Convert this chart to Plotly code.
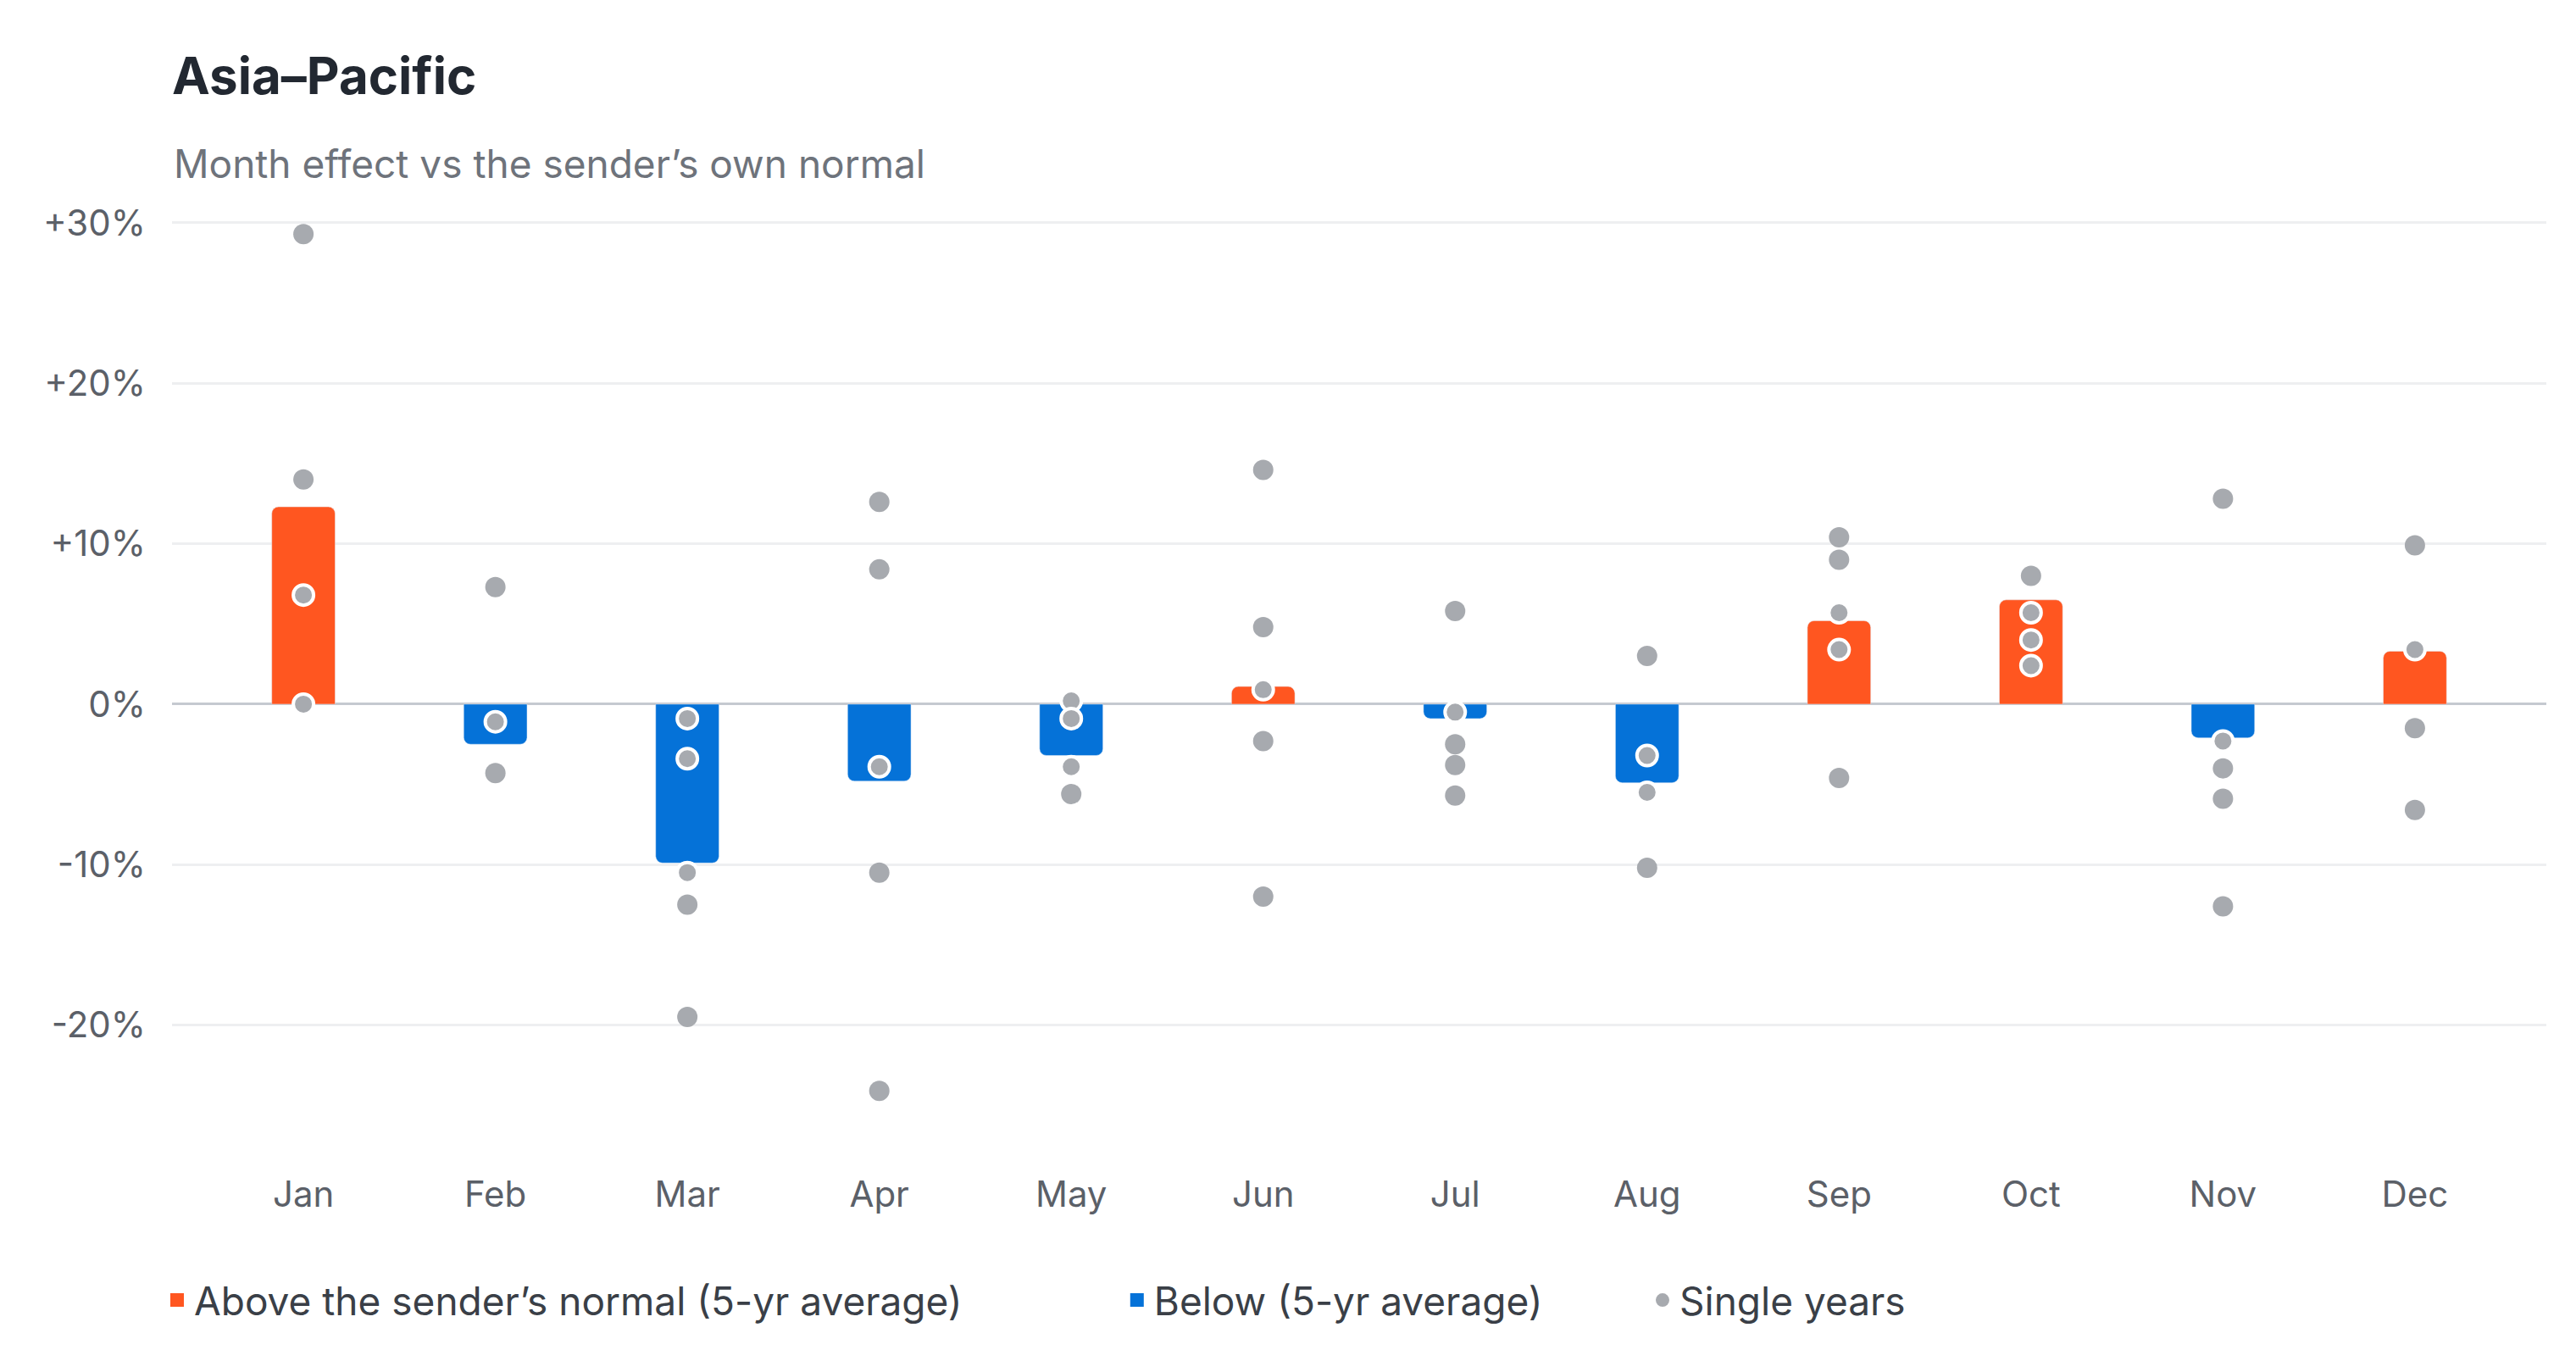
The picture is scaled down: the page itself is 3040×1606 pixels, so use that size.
import plotly.graph_objects as go

months = ["Jan", "Feb", "Mar", "Apr", "May", "Jun", "Jul", "Aug", "Sep", "Oct", "Nov", "Dec"]
avg = [12.3, -2.5, -9.9, -4.8, -3.2, 1.1, -0.9, -4.9, 5.2, 6.5, -2.1, 3.3]
years = [
    [29.3, 14.0, 6.8, 0.0],
    [7.3, -1.1, -4.3],
    [-0.9, -3.4, -10.5, -12.5, -19.5],
    [12.6, 8.4, -3.9, -10.5, -24.1],
    [0.2, -0.9, -3.9, -5.6],
    [14.6, 4.8, 0.9, -2.3, -12.0],
    [5.8, -0.5, -2.5, -3.8, -5.7],
    [3.0, -3.2, -5.5, -10.2],
    [10.4, 9.0, 5.7, 3.4, -4.6],
    [8.0, 5.7, 4.0, 2.4],
    [12.8, -2.3, -4.0, -5.9, -12.6],
    [9.9, 3.4, -1.5, -6.6],
]

ORANGE = "#FF5620"
BLUE = "#0572D8"
GREY = "#A7AAAF"
FONT = "Inter"
NB = "\u00a0"

fig = go.Figure()
up_x = [m for m, v in zip(months, avg) if v >= 0]
up_y = [v for v in avg if v >= 0]
dn_x = [m for m, v in zip(months, avg) if v < 0]
dn_y = [v for v in avg if v < 0]
fig.add_bar(x=up_x, y=up_y, marker_color=ORANGE, width=0.33, showlegend=False)
fig.add_bar(x=dn_x, y=dn_y, marker_color=BLUE, width=0.33, showlegend=False)

# dots inside a bar get a white ring
px_, py_, lw = [], [], []
for m, a, ys in zip(months, avg, years):
    lo, hi = min(0, a) - 0.8, max(0, a) + 0.8
    for y in ys:
        px_.append(m)
        py_.append(y)
        lw.append(4 if lo <= y <= hi else 0)
fig.add_scatter(x=px_, y=py_, mode="markers", showlegend=False,
                marker=dict(color=GREY, size=24, line=dict(color="white", width=lw)))

# legend entries
for name, col, sym in [("Above the sender’s normal (5-yr average)" + NB * 14, ORANGE, "square"),
                       ("Below (5-yr average)" + NB * 9, BLUE, "square"),
                       ("Single years", GREY, "circle")]:
    fig.add_scatter(x=[None], y=[None], mode="markers", name=name,
                    marker=dict(color=col, size=40, symbol=sym))

fig.update_layout(
    width=3040, height=1606, plot_bgcolor="white", paper_bgcolor="white",
    barmode="overlay", barcornerradius=8,
    font=dict(family=FONT, color="#5B6068", size=42),
    margin=dict(l=195, r=43, t=236, b=253),
    title=dict(text="<b>Asia–Pacific</b>", x=195 / 3040, xanchor="left", y=1 - 82 / 1606,
               yanchor="middle", font=dict(size=60, color="#222831")),
    annotations=[dict(text="Month effect vs the sender’s own normal", xref="paper", yref="paper",
                      x=0, y=1 + 51 / 1117, xanchor="left", yanchor="middle", showarrow=False,
                      font=dict(size=46, color="#6E737B"))],
    legend=dict(orientation="h", x=-0.005, xanchor="left", y=-0.155, yanchor="middle",
                font=dict(size=46, color="#3A3F47"), itemsizing="trace",
                traceorder="normal"),
)
fig.update_xaxes(showgrid=False, ticks="", ticklabelstandoff=20, categoryorder="array",
                 categoryarray=months, tickfont=dict(size=42, color="#5B6068"))
fig.update_yaxes(range=[-28, 31], tickvals=[-20, -10, 0, 10, 20, 30],
                 ticktext=["-20%", "-10%", "0%", "+10%", "+20%", "+30%"],
                 gridcolor="#EEEFF1", gridwidth=3, zeroline=True, zerolinecolor="#C5C9D0",
                 zerolinewidth=3, ticklabelstandoff=30, tickfont=dict(size=42, color="#5B6068"))

fig.write_html("out.html")
